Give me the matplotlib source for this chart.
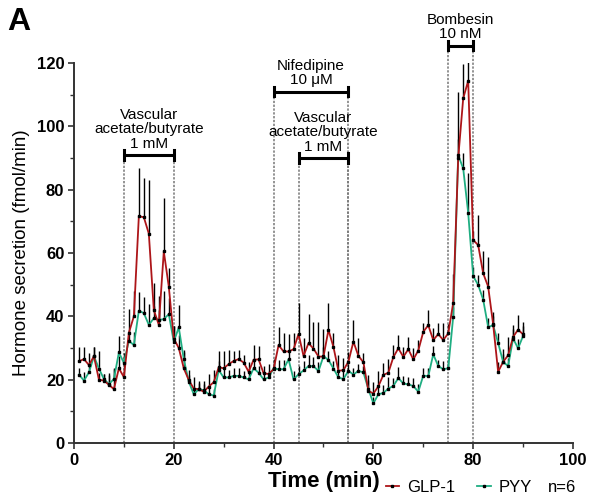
import numpy as np
import matplotlib.pyplot as plt
from matplotlib.lines import Line2D

plt.rcParams['font.family'] = ['Liberation Sans', 'DejaVu Sans']

# time points (min)
minutes = list(range(1, 91))

# GLP-1 mean and SEM (fmol/min)
glp1 = [25.8, 26.5, 24.6, 27.4, 20.0, 19.7, 18.4, 17.0, 23.6, 20.8,
        34.8, 40.0, 71.6, 71.3, 66.1, 42.0, 37.3, 60.5, 49.4, 33.0,
        30.0, 23.6, 19.9, 17.2, 17.0, 16.2, 17.8, 19.2, 23.9, 23.6,
        24.9, 25.9, 26.5, 25.4, 22.5, 26.3, 26.4, 22.0, 21.8, 23.3,
        30.9, 28.9, 28.9, 29.6, 34.4, 27.5, 31.5, 29.8, 27.3, 27.3,
        35.7, 30.3, 22.8, 23.0, 25.7, 32.0, 27.5, 25.5, 16.5, 15.6,
        17.9, 21.5, 22.2, 27.1, 29.9, 27.2, 29.6, 26.4, 29.2, 35.1,
        37.2, 32.5, 34.4, 32.5, 34.6, 44.3, 90.0, 108.8, 114.4, 64.1,
        62.5, 53.6, 49.4, 37.5, 22.5, 25.6, 27.7, 33.5, 35.8, 34.3]
glp1_sem = [4.4, 3.7, 3.8, 3.0, 2.0, 2.0, 3.7, 6.5, 4.0, 6.0,
            7.5, 8.0, 15.2, 12.5, 17.0, 8.5, 9.0, 17.0, 6.0, 4.0,
            4.0, 5.0, 3.0, 3.5, 2.7, 3.5, 4.0, 4.0, 5.0, 5.4,
            4.4, 3.2, 3.0, 2.5, 3.0, 4.5, 4.2, 2.3, 3.3, 3.0,
            5.8, 5.9, 5.5, 5.2, 9.7, 5.8, 9.2, 8.5, 10.8, 8.7,
            8.6, 4.4, 5.0, 4.0, 3.0, 7.0, 5.8, 2.8, 5.0, 3.7,
            4.9, 3.9, 4.2, 3.9, 4.2, 3.1, 4.0, 3.5, 3.4, 2.7,
            4.7, 3.7, 3.6, 5.3, 3.0, 9.2, 21.0, 11.0, 6.0, 3.0,
            9.5, 7.0, 9.4, 4.0, 3.0, 4.2, 5.9, 3.8, 4.6, 4.0]

# PYY mean and SEM (fmol/min)
pyy = [21.6, 19.7, 22.3, 27.4, 23.5, 20.2, 18.6, 20.2, 28.6, 25.3,
       32.3, 30.9, 41.8, 41.0, 37.3, 39.4, 38.9, 39.1, 40.7, 32.0,
       36.5, 26.5, 19.4, 15.4, 17.0, 16.7, 15.4, 15.0, 23.0, 20.7,
       20.7, 21.2, 21.2, 20.7, 20.1, 23.6, 22.2, 20.1, 20.7, 23.6,
       23.3, 23.3, 26.4, 20.1, 21.7, 22.9, 24.3, 24.3, 22.7, 27.4,
       26.2, 23.5, 20.7, 20.2, 22.8, 21.6, 22.8, 22.3, 17.0, 12.5,
       15.4, 15.8, 17.2, 18.0, 20.5, 18.8, 18.5, 18.0, 16.2, 21.3,
       21.1, 28.0, 24.3, 23.3, 23.6, 39.9, 90.9, 86.7, 72.7, 52.7,
       49.9, 45.3, 36.6, 37.2, 31.6, 25.6, 24.3, 33.0, 29.9, 33.8]
pyy_sem = [2.0, 2.6, 2.0, 2.8, 5.5, 1.5, 3.0, 3.5, 5.3, 3.0,
           3.0, 4.0, 6.0, 5.0, 6.5, 4.0, 3.0, 9.0, 5.0, 5.0,
           7.0, 3.0, 2.0, 2.0, 2.0, 2.0, 2.0, 2.0, 3.0, 3.0,
           2.5, 2.5, 2.5, 2.0, 2.0, 2.5, 2.0, 2.0, 2.0, 3.0,
           3.0, 3.0, 3.0, 2.5, 2.5, 3.0, 3.5, 3.0, 3.0, 3.0,
           3.0, 2.5, 2.0, 2.5, 2.0, 2.0, 2.0, 2.0, 3.0, 2.0,
           2.5, 2.5, 3.5, 2.5, 3.5, 2.5, 2.5, 2.5, 2.5, 2.5,
           2.5, 2.5, 2.0, 2.5, 2.5, 3.0, 5.0, 5.0, 12.6, 3.0,
           3.0, 3.0, 3.0, 3.0, 3.0, 2.5, 2.5, 3.0, 3.0, 3.0]

# treatment bars: (start, end, bar level, label)
treatments = [
    (10, 20, 91, "Vascular\nacetate/butyrate\n1 mM"),
    (40, 55, 111, "Nifedipine\n10 \u03bcM"),
    (45, 55, 90, "Vascular\nacetate/butyrate\n1 mM"),
    (75, 80, 125.5, "Bombesin\n10 nM"),
]

red = '#ad1519'
green = '#1fae82'

fig = plt.figure(figsize=(5.89, 5.0), dpi=100)
ax = fig.add_axes([0.1256, 0.114, 0.8472, 0.76])

zeros = np.zeros(len(minutes))
ax.errorbar(minutes, glp1, yerr=[zeros, glp1_sem], fmt='none', ecolor='black',
            elinewidth=1.0, capsize=0, zorder=2)
ax.errorbar(minutes, pyy, yerr=[zeros, pyy_sem], fmt='none', ecolor='black',
            elinewidth=1.0, capsize=0, zorder=2)
ax.plot(minutes, pyy, color=green, lw=1.3, zorder=3)
ax.plot(minutes, glp1, color=red, lw=1.3, zorder=3)
ax.plot(minutes, pyy, ls='none', marker='s', ms=1.5, color='black', zorder=4)
ax.plot(minutes, glp1, ls='none', marker='s', ms=1.5, color='black', zorder=4)

for start, end, level, label in treatments:
    for xv in (start, end):
        ax.plot([xv, xv], [0, level], color='#777777', lw=1.1,
                ls=(0, (1.5, 1.0)), zorder=1, clip_on=False)
    ax.plot([start, end], [level, level], color='black', lw=2.2,
            solid_capstyle='butt', clip_on=False, zorder=5)
    for xv in (start, end):
        ax.plot([xv, xv], [level - 1.5, level + 1.5], color='black', lw=2.2,
                clip_on=False, zorder=5)
    ax.text((start + end) / 2, level + 1.3, label, ha='center', va='bottom',
            fontsize=11, linespacing=1.05)

ax.set_xlim(0, 100)
ax.set_ylim(0, 120)
ax.set_xticks(range(0, 101, 20))
ax.set_xticks(range(0, 101, 10), minor=True)
ax.set_yticks(range(0, 121, 20))
ax.set_yticks(range(0, 121, 10), minor=True)
for lab in ax.get_xticklabels() + ax.get_yticklabels():
    lab.set_fontweight('bold')
ax.tick_params(axis='both', which='major', labelsize=12, length=4, width=1.2,
               color='#333333', pad=3)
ax.tick_params(axis='both', which='minor', length=3, width=1.0, color='#333333')
for side in ('top', 'right'):
    ax.spines[side].set_visible(False)
for side in ('left', 'bottom'):
    ax.spines[side].set_linewidth(1.4)
    ax.spines[side].set_color('#333333')

ax.set_xlabel("Time (min)", fontsize=16, fontweight='bold', labelpad=2)
ax.set_ylabel("Hormone secretion (fmol/min)", fontsize=13.5, labelpad=5)

fig.text(0.012, 0.94, "A", fontsize=23, fontweight='bold')

handles = [
    Line2D([], [], color=red, lw=1.3, marker='s', ms=1.5, mfc='black', mec='black'),
    Line2D([], [], color=green, lw=1.3, marker='s', ms=1.5, mfc='black', mec='black'),
]
fig.legend(handles, ["GLP-1", "PYY"], loc='center left', bbox_to_anchor=(0.655, 0.025),
           ncol=2, frameon=False, fontsize=12, handlelength=0.8, handletextpad=0.5,
           columnspacing=1.3, borderpad=0, borderaxespad=0)
fig.text(0.93, 0.025, "n=6", fontsize=12, ha='left', va='center')

fig.savefig("out.png", dpi=100)
